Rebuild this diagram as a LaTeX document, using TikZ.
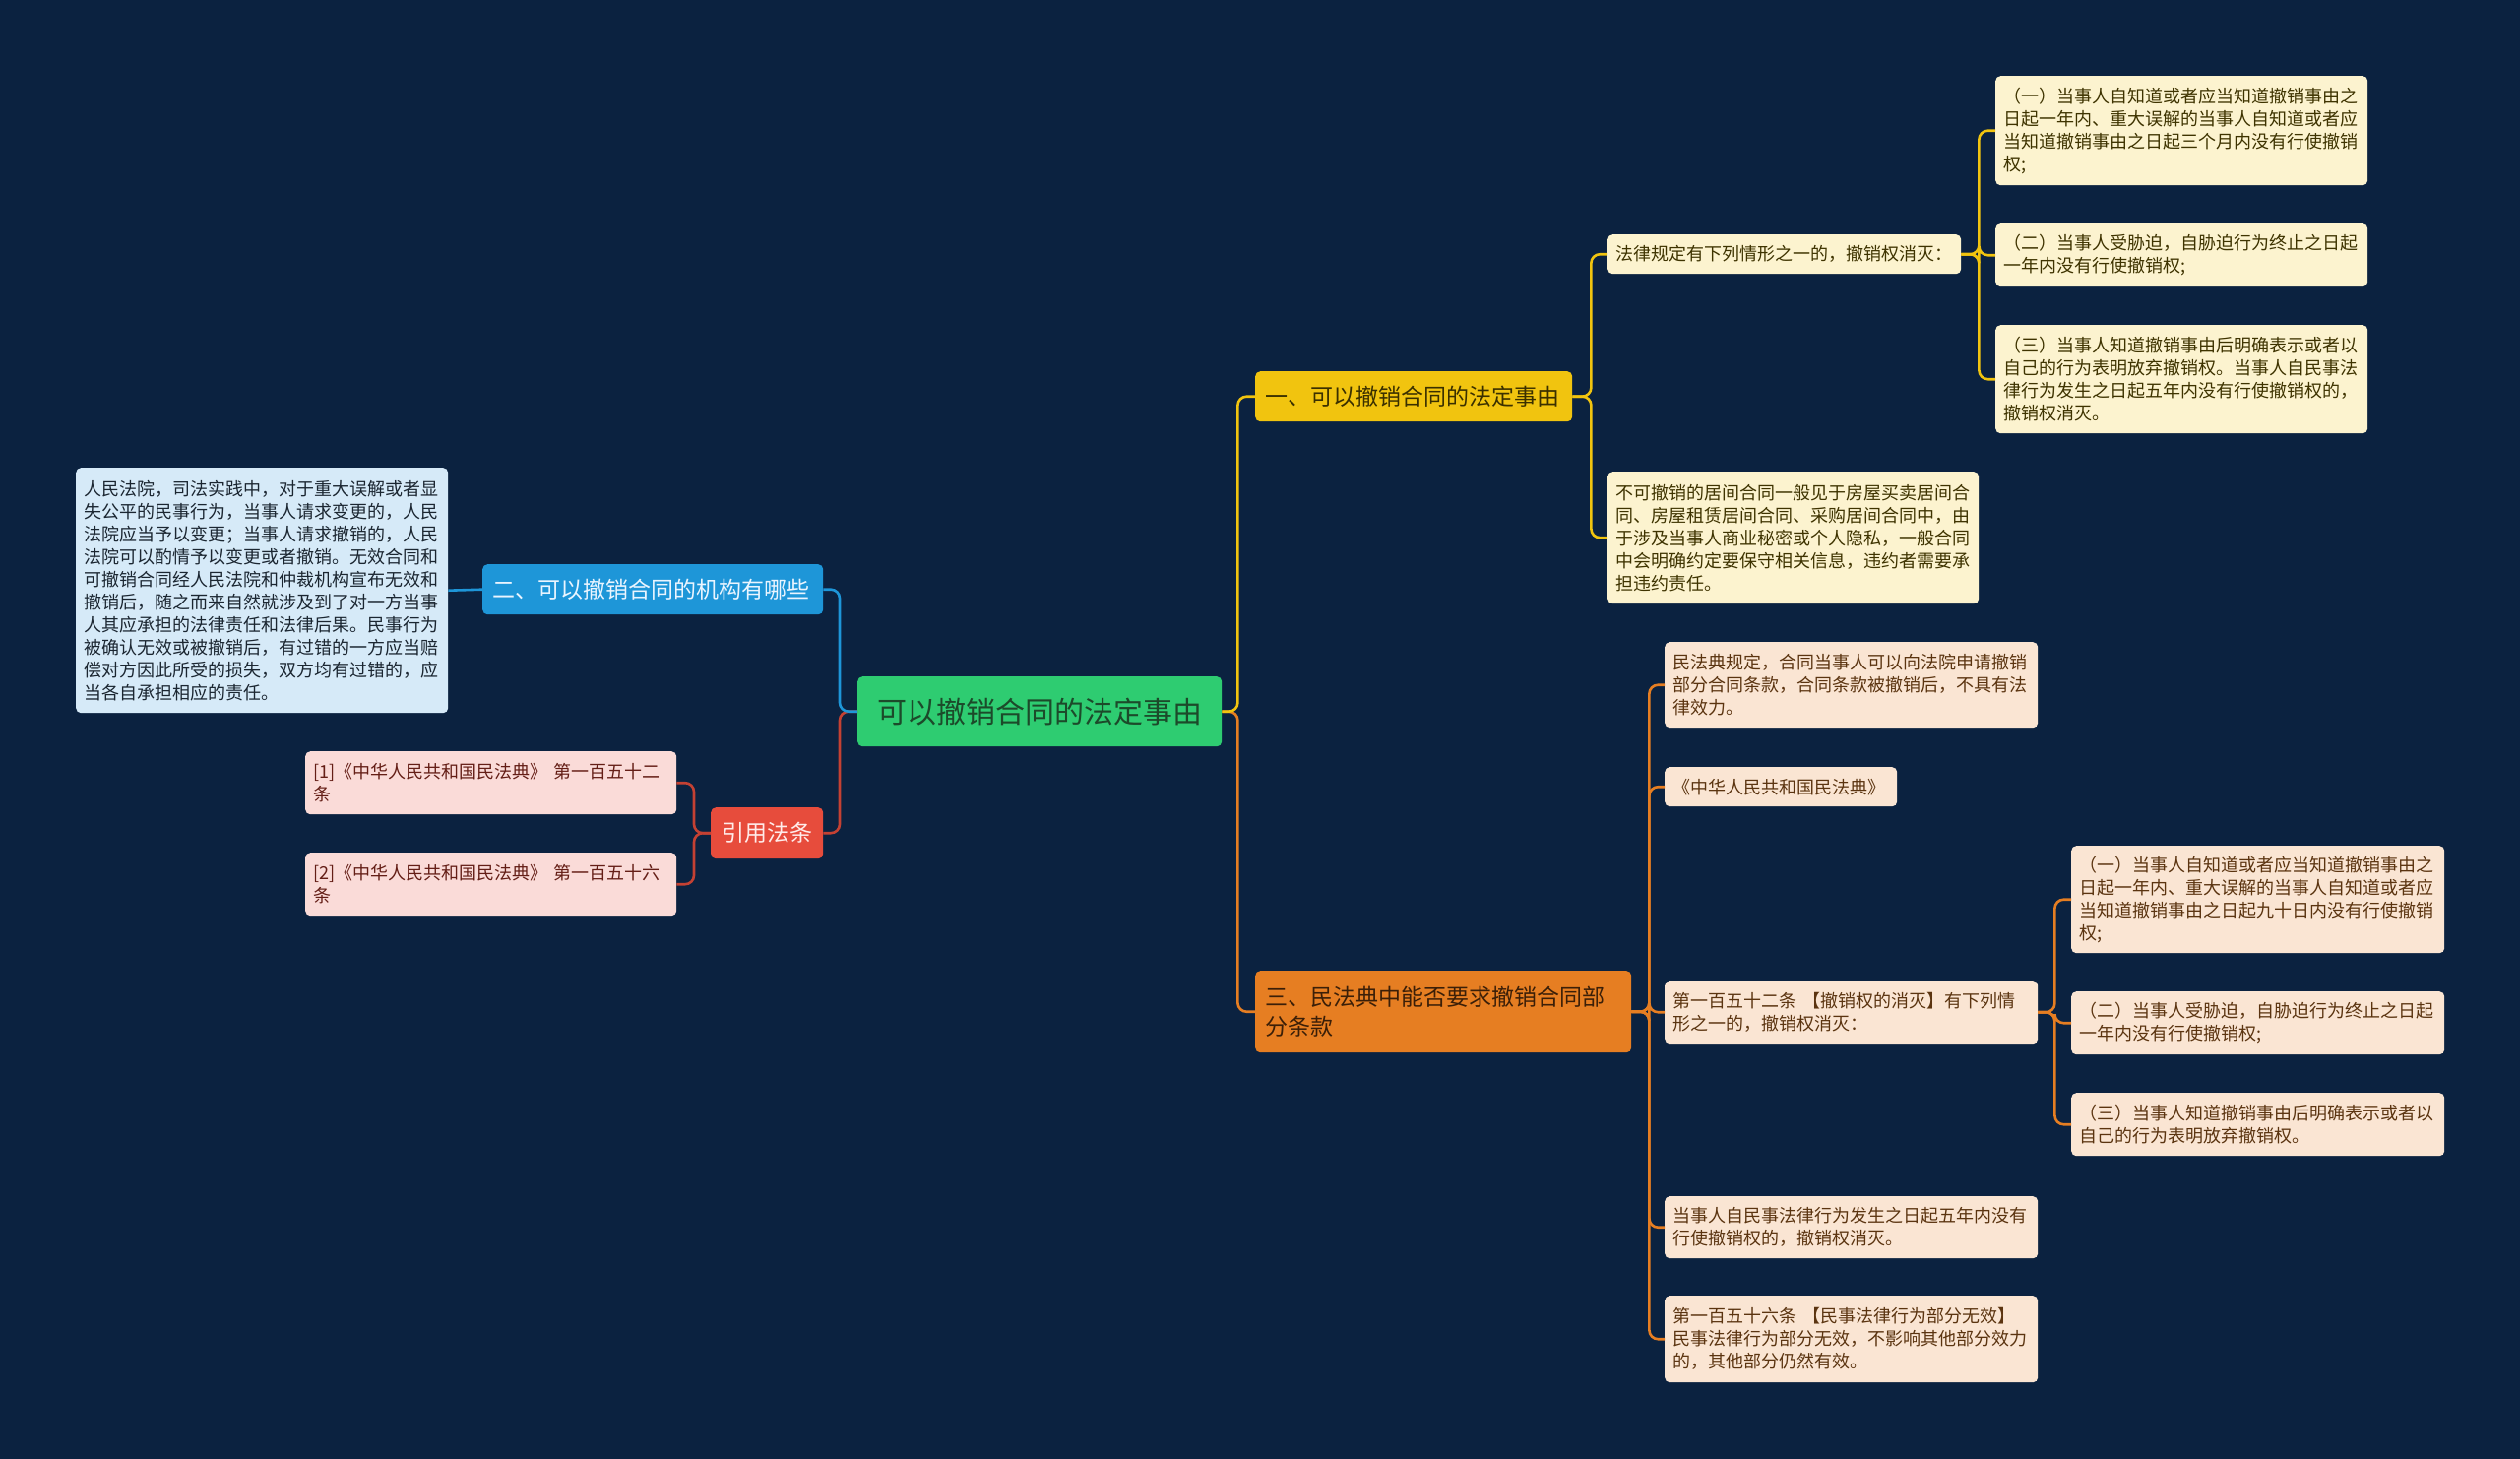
\documentclass[tikz,border=0pt]{standalone}
\usepackage{fontspec}
\setmainfont{Noto Sans CJK SC}
\definecolor{bgc}{HTML}{0B2240}
\definecolor{rootf}{HTML}{2ECC71}
\definecolor{roott}{HTML}{1C4A2A}
\definecolor{yelf}{HTML}{F1C40F}
\definecolor{yelt}{HTML}{3A3000}
\definecolor{bluf}{HTML}{1E96D8}
\definecolor{blut}{HTML}{EAF5FF}
\definecolor{redf}{HTML}{E74C3C}
\definecolor{redt}{HTML}{FFECEA}
\definecolor{orgf}{HTML}{E67E22}
\definecolor{orgt}{HTML}{3B1F08}
\definecolor{bleaf}{HTML}{D6EAF8}
\definecolor{bleaft}{HTML}{1B2631}
\definecolor{pleaf}{HTML}{FADBD8}
\definecolor{pleaft}{HTML}{641E16}
\definecolor{yleaf}{HTML}{FCF3CF}
\definecolor{yleaft}{HTML}{3E3300}
\definecolor{oleaf}{HTML}{FAE5D3}
\definecolor{oleaft}{HTML}{5B3410}
\tikzset{
  box/.style={rounded corners=5pt, anchor=north west, inner ysep=0pt, align=left},
  leaf/.style={box, inner xsep=8pt, font=\fontsize{18pt}{23pt}\selectfont},
  br/.style={box, inner xsep=10pt, font=\fontsize{23pt}{30pt}\selectfont},
  con/.style={line width=2.6pt, rounded corners=9pt},
  ycon/.style={con, draw=yelf},
  ocon/.style={con, draw=orgf},
  bcon/.style={con, draw=bluf},
  rcon/.style={con, draw=redf!85!black},
}
\begin{document}
\begin{tikzpicture}[x=1pt,y=-1pt]
\useasboundingbox (0,0) rectangle (2560,1481);
\fill[bgc] (-10,-10) rectangle (2570,1491);

% root
\node[box, align=center, fill=rootf, text=roott, inner xsep=0pt, minimum width=370pt, minimum height=71pt, font=\fontsize{30pt}{36pt}\selectfont] (root) at (871,687) {可以撤销合同的法定事由};

% main branches
\node[br, fill=yelf, text=yelt, text width=302pt, minimum height=51pt] (b1) at (1275,377) {一、可以撤销合同的法定事由};
\node[br, fill=bluf, text=blut, text width=326pt, minimum height=51pt] (b2) at (490,573) {二、可以撤销合同的机构有哪些};
\node[br, fill=orgf, text=orgt, text width=362pt, minimum height=83pt] (b3) at (1275,986) {三、民法典中能否要求撤销合同部\\分条款};
\node[br, align=center, fill=redf, text=redt, inner xsep=0pt, minimum width=114pt, minimum height=52pt] (cite) at (722,820) {引用法条};

% blue leaf
\node[leaf, fill=bleaf, text=bleaft, text width=362pt, minimum height=249pt] (bl) at (77,475) {人民法院，司法实践中，对于重大误解或者显\\失公平的民事行为，当事人请求变更的，人民\\法院应当予以变更；当事人请求撤销的，人民\\法院可以酌情予以变更或者撤销。无效合同和\\可撤销合同经人民法院和仲裁机构宣布无效和\\撤销后，随之而来自然就涉及到了对一方当事\\人其应承担的法律责任和法律后果。民事行为\\被确认无效或被撤销后，有过错的一方应当赔\\偿对方因此所受的损失，双方均有过错的，应\\当各自承担相应的责任。};

% citations
\node[leaf, fill=pleaf, text=pleaft, text width=361pt, minimum height=64pt] (c1) at (310,763) {[1]《中华人民共和国民法典》 第一百五十二\\条};
\node[leaf, fill=pleaf, text=pleaft, text width=361pt, minimum height=64pt] (c2) at (310,866) {[2]《中华人民共和国民法典》 第一百五十六\\条};

% branch 1 leaves
\node[leaf, fill=yleaf, text=yleaft, text width=343pt, minimum height=40pt] (y0) at (1633,238) {法律规定有下列情形之一的，撤销权消灭：};
\node[leaf, fill=yleaf, text=yleaft, text width=362pt, minimum height=111pt] (y1) at (2027,77) {（一）当事人自知道或者应当知道撤销事由之\\日起一年内、重大误解的当事人自知道或者应\\当知道撤销事由之日起三个月内没有行使撤销\\权;};
\node[leaf, fill=yleaf, text=yleaft, text width=362pt, minimum height=64pt] (y2) at (2027,227) {（二）当事人受胁迫，自胁迫行为终止之日起\\一年内没有行使撤销权;};
\node[leaf, fill=yleaf, text=yleaft, text width=362pt, minimum height=110pt] (y3) at (2027,330) {（三）当事人知道撤销事由后明确表示或者以\\自己的行为表明放弃撤销权。当事人自民事法\\律行为发生之日起五年内没有行使撤销权的，\\撤销权消灭。};
\node[leaf, fill=yleaf, text=yleaft, text width=361pt, minimum height=134pt] (y4) at (1633,479) {不可撤销的居间合同一般见于房屋买卖居间合\\同、房屋租赁居间合同、采购居间合同中，由\\于涉及当事人商业秘密或个人隐私，一般合同\\中会明确约定要保守相关信息，违约者需要承\\担违约责任。};

% branch 3 leaves
\node[leaf, fill=oleaf, text=oleaft, text width=363pt, minimum height=87pt] (o1) at (1691,652) {民法典规定，合同当事人可以向法院申请撤销\\部分合同条款，合同条款被撤销后，不具有法\\律效力。};
\node[leaf, fill=oleaf, text=oleaft, text width=220pt, minimum height=40pt] (o2) at (1691,779) {《中华人民共和国民法典》};
\node[leaf, fill=oleaf, text=oleaft, text width=363pt, minimum height=64pt] (o3) at (1691,996) {第一百五十二条 【撤销权的消灭】有下列情\\形之一的，撤销权消灭：};
\node[leaf, fill=oleaf, text=oleaft, text width=363pt, minimum height=63pt] (o4) at (1691,1215) {当事人自民事法律行为发生之日起五年内没有\\行使撤销权的，撤销权消灭。};
\node[leaf, fill=oleaf, text=oleaft, text width=363pt, minimum height=88pt] (o5) at (1691,1316) {第一百五十六条 【民事法律行为部分无效】\\民事法律行为部分无效，不影响其他部分效力\\的，其他部分仍然有效。};
\node[leaf, fill=oleaf, text=oleaft, text width=363pt, minimum height=109pt] (p1) at (2104,859) {（一）当事人自知道或者应当知道撤销事由之\\日起一年内、重大误解的当事人自知道或者应\\当知道撤销事由之日起九十日内没有行使撤销\\权;};
\node[leaf, fill=oleaf, text=oleaft, text width=363pt, minimum height=64pt] (p2) at (2104,1007) {（二）当事人受胁迫，自胁迫行为终止之日起\\一年内没有行使撤销权;};
\node[leaf, fill=oleaf, text=oleaft, text width=363pt, minimum height=64pt] (p3) at (2104,1110) {（三）当事人知道撤销事由后明确表示或者以\\自己的行为表明放弃撤销权。};

% connectors
\draw[ocon] (root.east) -- ++(16,0) |- (b3.west);
\draw[ycon] (root.east) -- ++(16,0) |- (b1.west);
\draw[rcon] (root.west) -- ++(-18,0) |- (cite.east);
\draw[bcon] (root.west) -- ++(-18,0) |- (b2.east);
\draw[bcon] (b2.west) -- (bl.east);
\foreach \t in {c1,c2} \draw[rcon] (cite.west) -- ++(-17,0) |- (\t.east);
\foreach \t in {y0,y4} \draw[ycon] (b1.east) -- ++(19,0) |- (\t.west);
\foreach \t in {y1,y2,y3} \draw[ycon] (y0.east) -- ++(18,0) |- (\t.west);
\foreach \t in {o1,o2,o3,o4,o5} \draw[ocon] (b3.east) -- ++(18,0) |- (\t.west);
\foreach \t in {p1,p2,p3} \draw[ocon] (o3.east) -- ++(17,0) |- (\t.west);
\end{tikzpicture}
\end{document}
